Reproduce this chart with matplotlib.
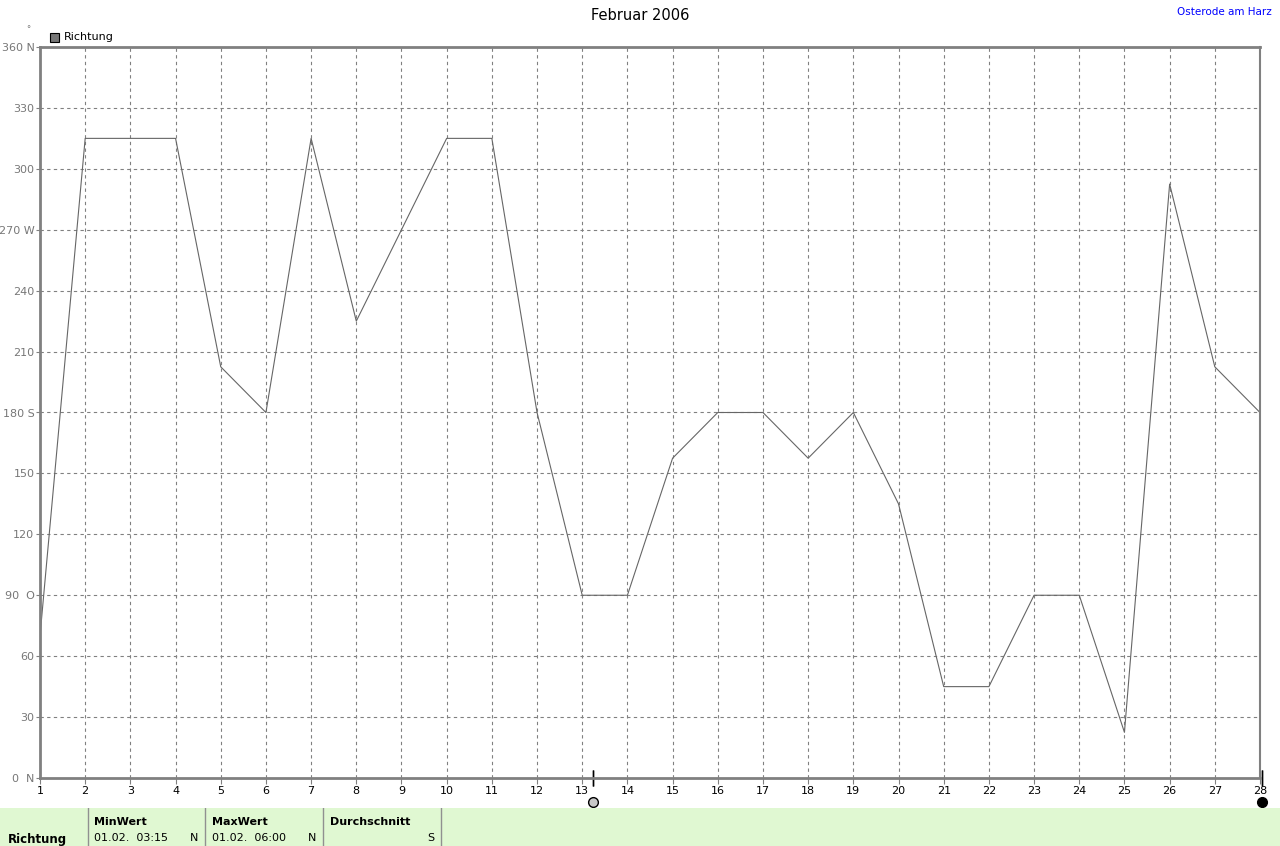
import matplotlib
matplotlib.use('Agg')
import matplotlib.pyplot as plt
from matplotlib.patches import Rectangle

# ── DATA ──────────────────────────────────────────────────────────────────────
days = list(range(1, 29))
richtung = [70, 315, 315, 315, 202.5, 180, 315, 225, 270, 315,
            315, 180, 90, 90, 157.5, 180, 180, 157.5, 180, 135,
            45, 45, 90, 90, 22.5, 292.5, 202.5, 180]
y_ticks = list(range(0, 361, 30))
y_labels = ['0  N', '30', '60', '90  O', '120', '150', '180 S', '210',
            '240', '270 W', '300', '330', '360 N']
marker_open = 13.24     # Position Schieber
marker_full = 28.05

summary_heads = ['MinWert', 'MaxWert', 'Durchschnitt']
summary_vals = [('01.02.  03:15', 'N'), ('01.02.  06:00', 'N'), ('', 'S')]

# ── FIGURE ────────────────────────────────────────────────────────────────────
W, H = 1280, 846
plt.rcParams['font.family'] = ['DejaVu Sans']
fig = plt.figure(figsize=(W / 100, H / 100), dpi=100)
fig.patch.set_facecolor('white')

ax = fig.add_axes([40 / W, 1 - 778 / H, 1220 / W, 731 / H])
ax.plot(days, richtung, color='#666666', linewidth=0.8)
ax.set_xlim(1, 28)
ax.set_ylim(0, 360)
ax.set_xticks(days)
ax.set_xticklabels([str(d) for d in days], fontsize=8, color='black')
ax.set_yticks(y_ticks)
ax.set_yticklabels(y_labels, fontsize=8, color='#777777')
ax.tick_params(axis='x', length=4, color='#808080', pad=2)
ax.tick_params(axis='y', length=3, color='#808080', pad=1)
ax.grid(True, linestyle=(0, (3, 3)), color='#808080', linewidth=0.8)
for s in ax.spines.values():
    s.set_color('#808080')
    s.set_linewidth(2)
ax.spines['right'].set_linewidth(1.5)

# Titel
fig.text(0.5, 1 - 15 / H, 'Februar 2006', ha='center', va='center', fontsize=10.5)
fig.text(1272 / W, 1 - 12 / H, 'Osterode am Harz', ha='right', va='center',
         fontsize=7.5, color='blue')
fig.text(28 / W, 1 - 30 / H, '°', ha='center', va='center', fontsize=6, color='#777777')

# Legende
fig.patches.append(Rectangle((50 / W, 1 - 42 / H), 9 / W, 9 / H, transform=fig.transFigure,
                             facecolor='#777777', edgecolor='black', linewidth=0.8))
fig.text(64 / W, 1 - 37 / H, 'Richtung', ha='left', va='center', fontsize=8)

# Schieber-Markierungen
for xm, fc in [(marker_open, '#c8c8c8'), (marker_full, 'black')]:
    ax.plot([xm, xm], [0, 0], marker='|', markersize=12, color='black',
            clip_on=False, markeredgewidth=1)
    ax.plot(xm, -12, marker='o', markersize=7, markerfacecolor=fc,
            markeredgecolor='black', clip_on=False)

# Untere Tabelle
tab = fig.add_axes([0, 0, 1, 38 / H])
tab.set_xlim(0, W)
tab.set_ylim(0, 38)
tab.axis('off')
tab.add_patch(Rectangle((0, 0), W, 38, facecolor='#e0f8d2', edgecolor='none'))
for xd in [88, 205, 323, 441]:
    tab.plot([xd, xd], [0, 38], color='#909090', linewidth=1)
tab.text(8, 7, 'Richtung', fontsize=8.5, fontweight='bold', va='center')
cols = [(94, 205), (212, 323), (330, 441)]
for (x0, x1), head, (val, unit) in zip(cols, summary_heads, summary_vals):
    tab.text(x0, 24, head, fontsize=8, fontweight='bold', va='center')
    tab.text(x0, 8, val, fontsize=8, va='center')
    tab.text(x1 - 7, 8, unit, fontsize=8, va='center', ha='right')

fig.savefig('out.png', dpi=100)
